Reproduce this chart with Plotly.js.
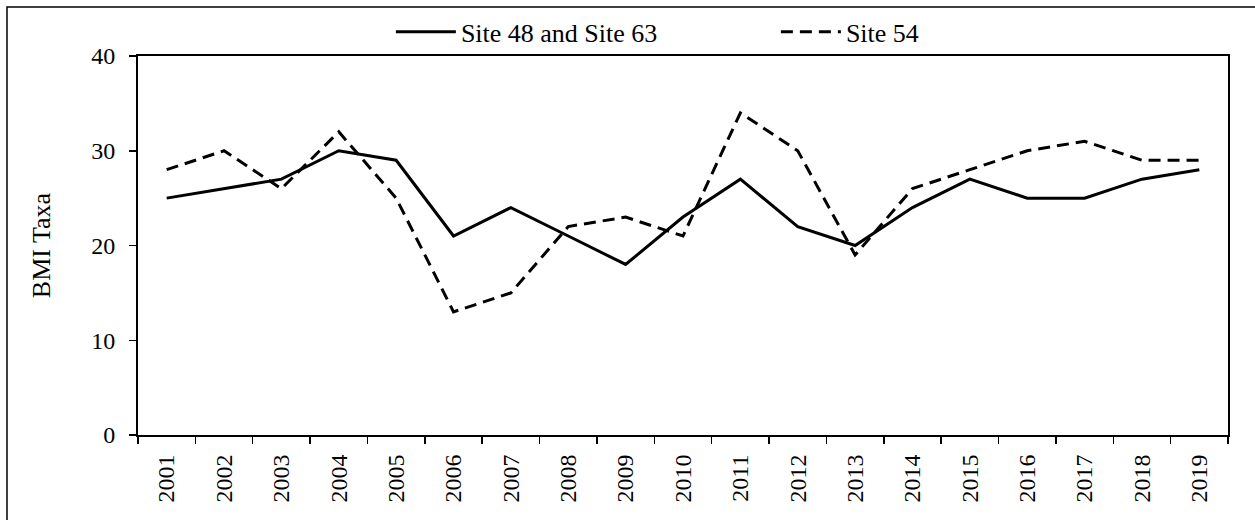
<!DOCTYPE html>
<html>
<head>
<meta charset="utf-8">
<script src="https://cdn.plot.ly/plotly-3.0.1.min.js"></script>
<style>
html,body{margin:0;padding:0;background:#fff;}
#chart{width:1255px;height:520px;}
</style>
</head>
<body>
<div id="chart"></div>
<script>
var years = ["2001","2002","2003","2004","2005","2006","2007","2008","2009","2010","2011","2012","2013","2014","2015","2016","2017","2018","2019"];
var site48and63 = [25,26,27,30,29,21,24,21,18,23,27,22,20,24,27,25,25,27,28];
var site54 = [28,30,26,32,25,13,15,22,23,21,34,30,19,26,28,30,31,29,29];
var yTicks = [0,10,20,30,40];

function mkFont(sz) { return {family: 'Liberation Serif', size: sz, color: '#000'}; }

var traces = [
  {x: years, y: site48and63, type: 'scatter', mode: 'lines', name: 'Site 48 and Site 63',
   line: {color: '#000', width: 3}, hoverinfo: 'x+y'},
  {x: years, y: site54, type: 'scatter', mode: 'lines', name: 'Site 54',
   line: {color: '#000', width: 3, dash: '12px,7px'}, hoverinfo: 'x+y'}
];

var layout = {
  width: 1255, height: 520,
  margin: {l: 138, r: 27, t: 56, b: 85, pad: 0, autoexpand: false},
  paper_bgcolor: '#fff', plot_bgcolor: '#fff',
  font: mkFont(24),
  showlegend: true,
  legend: {orientation: 'h', x: 0.232, xanchor: 'left', y: 1.064, yanchor: 'middle',
           font: mkFont(26), itemwidth: 60, entrywidth: 310, entrywidthmode: 'pixels',
           bgcolor: 'rgba(0,0,0,0)'},
  xaxis: {type: 'category', categoryorder: 'array', categoryarray: years,
          range: [-0.5, years.length - 0.5],
          tickson: 'boundaries', ticks: 'outside', ticklen: 7, tickwidth: 1.5, tickcolor: '#000',
          tickangle: -90, tickfont: mkFont(24), ticklabelstandoff: 8, automargin: false,
          showline: true, linecolor: '#000', linewidth: 2, mirror: true,
          showgrid: false, zeroline: false, fixedrange: true},
  yaxis: {range: [0, 40], tickvals: yTicks, ticks: 'outside', ticklen: 7, tickwidth: 1.5, tickcolor: '#000',
          tickfont: mkFont(24), ticklabelstandoff: 9, automargin: false,
          showline: true, linecolor: '#000', linewidth: 2, mirror: true,
          showgrid: false, zeroline: false, fixedrange: true,
          title: {text: 'BMI Taxa', font: mkFont(26), standoff: 33}},
  shapes: [
    {type: 'rect', xref: 'paper', yref: 'paper',
     x0: (7 - 138) / 1090, x1: (1265 - 138) / 1090,
     y0: (435 - 530) / 379, y1: (435 - 7) / 379,
     line: {color: '#000', width: 1.5}, fillcolor: 'rgba(0,0,0,0)', layer: 'below'}
  ]
};

Plotly.newPlot('chart', traces, layout, {displayModeBar: false, staticPlot: true});
</script>
</body>
</html>
